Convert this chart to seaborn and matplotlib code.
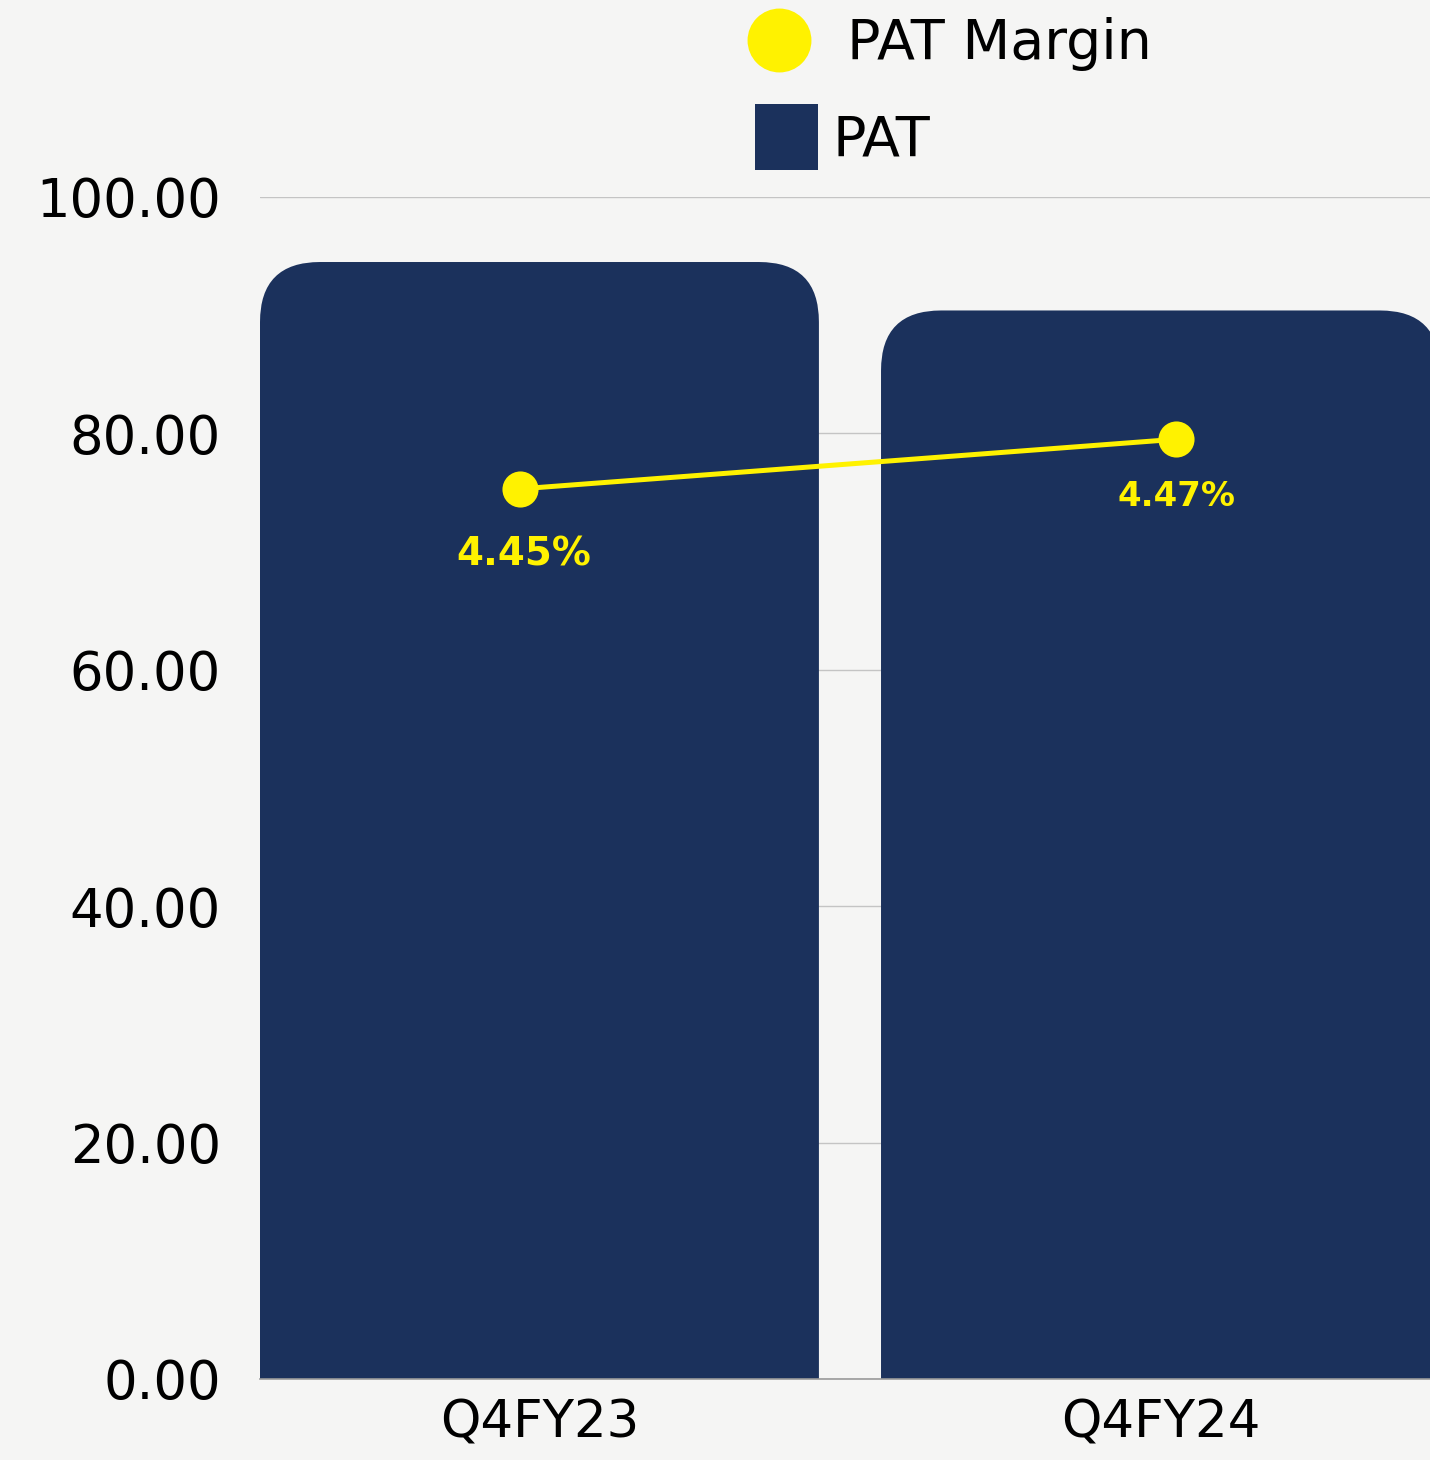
import matplotlib
matplotlib.use("Agg")
import matplotlib.pyplot as plt
import seaborn as sns
from matplotlib.patches import FancyBboxPatch, Patch
from matplotlib.lines import Line2D

# data
quarters = ["Q4FY23", "Q4FY24"]
pat = [94.5, 90.4]
pat_margin = [4.45, 4.47]
margin_labels = ["4.45%", "4.47%"]
label_sizes = [28, 24.5]

navy = "#1B315C"
yellow = "#FFF200"
bg = "#F5F5F4"

sns.set_theme(style="white")
plt.rcParams["font.family"] = ["DejaVu Sans"]

fig = plt.figure(figsize=(14.3, 14.6), dpi=100, facecolor=bg)
ax = fig.add_axes([260 / 1430, 81 / 1460, 1170 / 1430, 1182 / 1460])
ax.set_facecolor(bg)

sns.barplot(x=quarters, y=pat, color=navy, saturation=1, width=0.9,
            linewidth=0, ax=ax)
ax.set_xlim(-0.45, 1.434)
ax.set_ylim(0, 100)
ax.set_yticks(range(0, 101, 20))
ax.yaxis.set_major_formatter(matplotlib.ticker.FormatStrFormatter("%.2f"))
ax.grid(axis="y", color="#c4c4c4", linewidth=1)
ax.set_axisbelow(True)
for s in ["top", "right", "left"]:
    ax.spines[s].set_visible(False)
ax.spines["bottom"].set_color("#9a9a9a")
ax.spines["bottom"].set_linewidth(1.2)
ax.tick_params(axis="y", length=0, pad=28, labelsize=38, labelcolor="black")
ax.tick_params(axis="x", length=0, pad=14, labelsize=37, labelcolor="black")
ax.set_xlabel("")
ax.set_ylabel("")

# round the top corners of the bars (quadratic curves, so a bit larger)
rx = 60 / 621
ry = 60 / 11.82
for bar in ax.patches:
    x0, w, h = bar.get_x(), bar.get_width(), bar.get_height()
    clip = FancyBboxPatch((x0, -20), w, h + 20,
                          boxstyle=f"round,pad=0,rounding_size={rx}",
                          mutation_aspect=ry / rx, transform=ax.transData,
                          facecolor="none", edgecolor="none")
    bar.set_clip_path(clip)

# margin line on its own overlay axes
ax2 = fig.add_axes(ax.get_position(), frameon=False)
ax2.patch.set_alpha(0)
sns.lineplot(x=[0, 1], y=pat_margin, color=yellow, linewidth=3.6,
             marker="o", markersize=26, markeredgewidth=0, ax=ax2)
ax2.set_xlim(-0.396, 1.387)
ax2.set_ylim(4.0914, 4.5676)
ax2.set_xticks([])
ax2.set_yticks([])
offsets = [(3, -47), (0, -41)]
for i, lab in enumerate(margin_labels):
    ax2.annotate(lab, (i, pat_margin[i]), xytext=offsets[i],
                 textcoords="offset points", ha="center", va="center",
                 fontsize=label_sizes[i], fontweight="bold", color=yellow)

# legend: two single-entry legends to match the uneven spacing
fs = 40
leg1 = fig.legend([Line2D([0], [0], marker="o", color="none",
                          markerfacecolor=yellow, markeredgewidth=0,
                          markersize=46)],
                  ["PAT Margin"], loc="center left",
                  bbox_to_anchor=(745 / 1430, 1 - 44 / 1460), frameon=False,
                  fontsize=fs, labelcolor="black", handlelength=1.23,
                  handletextpad=0.6, borderpad=0, borderaxespad=0)
leg2 = fig.legend([Patch(facecolor=navy, edgecolor="none")], ["PAT"],
                  loc="center left",
                  bbox_to_anchor=(755 / 1430, 1 - 137 / 1460), frameon=False,
                  fontsize=fs, labelcolor="black", handlelength=1.13,
                  handleheight=1.45, handletextpad=0.27, borderpad=0,
                  borderaxespad=0)

fig.savefig("out.png", dpi=100, facecolor=bg)
